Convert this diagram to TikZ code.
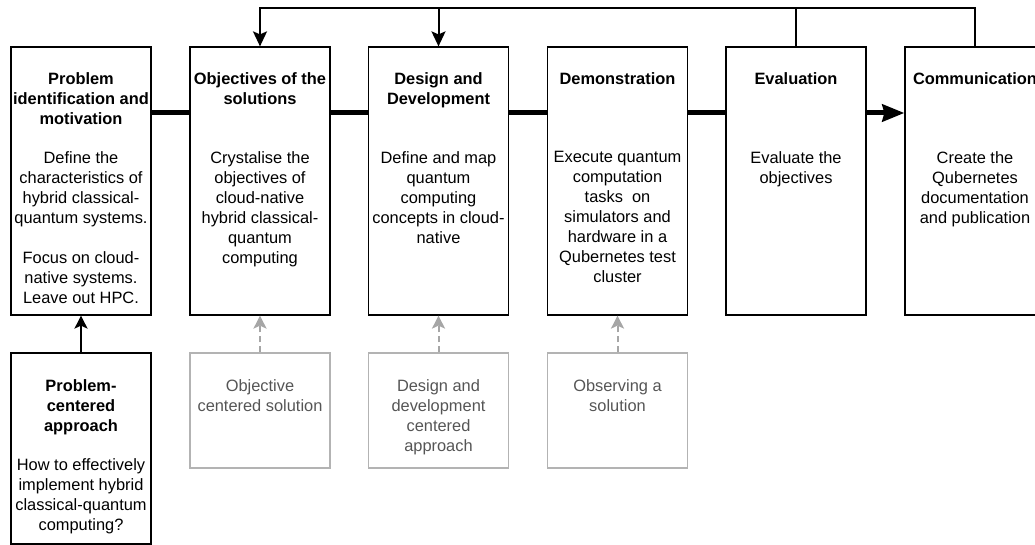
\documentclass[tikz,border=0pt]{standalone}
\usepackage{fontspec}
\setmainfont{Liberation Sans}
\usetikzlibrary{arrows.meta}
\definecolor{lightline}{HTML}{B3B3B3}
\definecolor{greytext}{HTML}{555555}
\definecolor{greyarrow}{HTML}{A6A6A6}

\begin{document}
\begin{tikzpicture}[x=1pt,y=-1pt,
  phase/.style={draw=black,line width=1.2pt,minimum width=140pt,minimum height=268pt,inner sep=0pt},
  entry/.style={draw=black,line width=1.2pt,minimum width=140pt,minimum height=191pt,inner sep=0pt},
  aux/.style={draw=lightline,line width=1.2pt,minimum width=140pt,minimum height=115pt,inner sep=0pt},
  head/.style={anchor=north,align=center,inner sep=0pt,font=\fontsize{16.4}{20}\selectfont\bfseries},
  body/.style={anchor=north,align=center,inner sep=0pt,font=\fontsize{16.4}{20}\selectfont},
  auxtext/.style={body,text=greytext},
  flow/.style={line width=5pt},
  feedback/.style={line width=2pt},
  fbtip/.style={-{Stealth[length=15pt,width=14pt,inset=3pt]}},
  up/.style={line width=2pt,-{Stealth[length=13pt,width=13pt,inset=3pt]}},
  upgrey/.style={up,draw=greyarrow,dash pattern=on 6pt off 4pt}
]
\useasboundingbox (0,0) rectangle (1035,545);

% the six process steps
\node[phase] (p1) at (81,181) {};
\node[phase] (p2) at (260,181) {};
\node[phase] (p3) at (438.5,181) {};
\node[phase] (p4) at (617.5,181) {};
\node[phase] (p5) at (796,181) {};
\node[phase] (p6) at (975,181) {};

% headings
\node[head] (h1) at (81,72) {Problem\\identification and\\motivation};
\node[head] (h2) at (260,72) {Objectives of the\\solutions};
\node[head] (h3) at (438.5,72) {Design and\\Development};
\node[head] (h4) at (617.5,72) {Demonstration};
\node[head] (h5) at (796,72) {Evaluation};
\node[head] (h6) at (975,72) {Communication};

% descriptions
\node[body] (d1) at (81,151) {Define the\\characteristics of\\hybrid classical-\\quantum systems.\\[20pt]Focus on cloud-\\native systems.\\Leave out HPC.};
\node[body] (d2) at (260,151) {Crystalise the\\objectives of\\cloud-native\\hybrid classical-\\quantum\\computing};
\node[body] (d3) at (438.5,151) {Define and map\\quantum\\computing\\concepts in cloud-\\native};
\node[body] (d4) at (617.5,151) {Execute quantum\\computation\\tasks~ on\\simulators and\\hardware in a\\Qubernetes test\\cluster};
\node[body] (d5) at (796,151) {Evaluate the\\objectives};
\node[body] (d6) at (975,151) {Create the\\Qubernetes\\documentation\\and publication};

% entry points
\node[entry] (e1) at (81,448.5) {};
\node[head] (eh1) at (81,379) {Problem-\\centered\\approach};
\node[body] (ed1) at (81,458) {How to effectively\\implement hybrid\\classical-quantum\\computing?};

\node[aux] (e2) at (260,410.5) {};
\node[auxtext] (et2) at (260,379) {Objective\\centered solution};
\node[aux] (e3) at (438.5,410.5) {};
\node[auxtext] (et3) at (438.5,379) {Design and\\development\\centered\\approach};
\node[aux] (e4) at (617.5,410.5) {};
\node[auxtext] (et4) at (617.5,379) {Observing a\\solution};

% main sequence
\coordinate (lane) at (0,113);
\draw[flow] (p1.east |- lane) -- (p2.west |- lane);
\draw[flow] (p2.east |- lane) -- (p3.west |- lane);
\draw[flow] (p3.east |- lane) -- (p4.west |- lane);
\draw[flow] (p4.east |- lane) -- (p5.west |- lane);
\draw[flow,-{Stealth[length=22pt,width=17pt,inset=2pt]}] (p5.east |- lane) -- (p6.west |- lane);

% iteration loop back
\coordinate (loop) at (0,8);
\draw[feedback,fbtip] (p6.north) |- (p2.north |- loop) -- (p2.north);
\draw[feedback] (p5.north) -- (p5.north |- loop);
\draw[feedback,fbtip] (p3.north |- loop) -- (p3.north);

% entry arrows
\draw[up] (e1.north) -- (p1.south);
\draw[upgrey] (e2.north) -- (p2.south);
\draw[upgrey] (e3.north) -- (p3.south);
\draw[upgrey] (e4.north) -- (p4.south);
\end{tikzpicture}
\end{document}
